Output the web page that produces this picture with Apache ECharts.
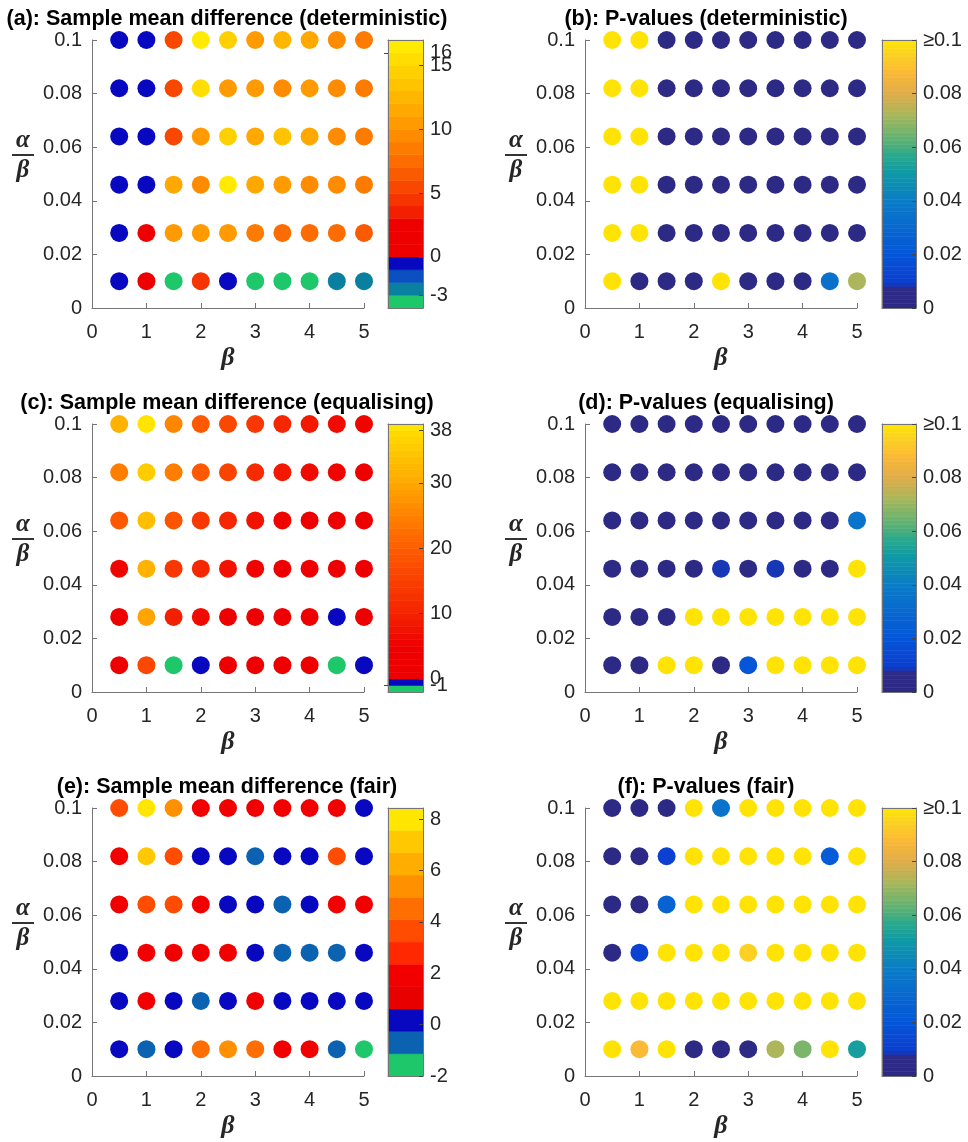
<!DOCTYPE html>
<html><head><meta charset="utf-8">
<script src="https://cdn.jsdelivr.net/npm/echarts@6/dist/echarts.min.js"></script>
<style>html,body{margin:0;padding:0;background:#fff}#c{width:968px;height:1142px}</style>
</head><body><div id="c"></div>
<script>
// ---------------- data ----------------
const betaValues = [0.5, 1, 1.5, 2, 2.5, 3, 3.5, 4, 4.5, 5];
// rows listed top (0.1) to bottom (0.01)
const ratioValues = [0.1, 0.082, 0.064, 0.046, 0.028, 0.01];
const xTickInterval = 1;
const yTickInterval = 0.02;

const panelTitles = [
  '(a): Sample mean difference (deterministic)',
  '(b): P-values (deterministic)',
  '(c): Sample mean difference (equalising)',
  '(d): P-values (equalising)',
  '(e): Sample mean difference (fair)',
  '(f): P-values (fair)'
];

const meanDiffDeterministic = [
  [-0.5, -0.5, 5.5, 16.5, 14.5, 10.5, 12, 11.5, 9.5, 8.5],
  [-0.5, -0.5, 5.5, 15.5, 10.5, 10, 9.5, 10, 9, 8],
  [-0.5, -0.5, 5.5, 10, 14, 11, 13, 11, 9.5, 8.5],
  [-0.5, -0.5, 11, 9.5, 16.5, 11.5, 10, 9.5, 9, 8.5],
  [-0.5, 1.5, 10, 10.5, 10.5, 8.5, 7.5, 7.5, 7, 6],
  [-0.5, 1.5, -3.5, 4.5, -0.5, -3.5, -3.5, -3.5, -2.5, -2.5]
];
const pValuesDeterministic = [
  [0.1, 0.1, 0.001, 0.001, 0.001, 0.001, 0.001, 0.001, 0.001, 0.001],
  [0.1, 0.1, 0.001, 0.001, 0.001, 0.001, 0.001, 0.001, 0.001, 0.001],
  [0.1, 0.1, 0.001, 0.001, 0.001, 0.001, 0.001, 0.001, 0.001, 0.001],
  [0.1, 0.1, 0.001, 0.001, 0.001, 0.001, 0.001, 0.001, 0.001, 0.001],
  [0.1, 0.1, 0.001, 0.001, 0.001, 0.001, 0.001, 0.001, 0.001, 0.001],
  [0.1, 0.001, 0.001, 0.001, 0.1, 0.001, 0.001, 0.001, 0.034, 0.072]
];
const meanDiffEqualising = [
  [31, 38.5, 25, 19.5, 16, 13, 10, 8, 6, 5],
  [24, 35, 24, 19, 15, 11, 8, 6, 5, 4],
  [19, 33, 18.5, 13, 10.5, 7, 5, 4, 3.5, 3],
  [5, 31, 13, 10, 7, 5, 4, 3, 2.5, 2],
  [4, 29, 9, 6, 4, 3.5, 3, 2.5, -0.5, 2],
  [3, 16, -1.5, -0.5, 3, 2.5, 2, 1.5, -1.5, -0.5]
];
const pValuesEqualising = [
  [0.001, 0.001, 0.001, 0.001, 0.001, 0.001, 0.001, 0.001, 0.001, 0.001],
  [0.001, 0.001, 0.001, 0.001, 0.001, 0.001, 0.001, 0.001, 0.001, 0.001],
  [0.001, 0.001, 0.001, 0.001, 0.001, 0.001, 0.001, 0.001, 0.001, 0.035],
  [0.001, 0.001, 0.001, 0.001, 0.008, 0.001, 0.008, 0.001, 0.001, 0.1],
  [0.001, 0.001, 0.001, 0.1, 0.1, 0.1, 0.1, 0.1, 0.1, 0.1],
  [0.001, 0.001, 0.1, 0.1, 0.001, 0.02, 0.1, 0.1, 0.1, 0.1]
];
const meanDiffFair = [
  [3.6, 8, 5.4, 1.8, 1.8, 1.6, 1.8, 1.6, 1.7, 0.2],
  [1.8, 7.2, 3.6, 0.2, 0.1, -0.6, 0.2, 0.1, 3.5, 0.2],
  [1.8, 3.6, 3.6, 1.9, 0.2, 0.1, -0.6, 0.2, 1.8, 1.8],
  [0.2, 1.8, 1.8, 1.5, 1.5, 0.2, -0.6, -0.6, -0.6, 0.2],
  [0.2, 1.8, 0.2, -0.6, 0.2, 1.8, 0.2, 0.2, 0.2, 0.2],
  [0.2, -0.6, 0.2, 4.5, 5.6, 4.5, 1.8, 1.8, -0.6, -1.5]
];
const pValuesFair = [
  [0.001, 0.001, 0.001, 0.1, 0.035, 0.1, 0.1, 0.1, 0.1, 0.1],
  [0.001, 0.001, 0.01, 0.1, 0.1, 0.1, 0.1, 0.1, 0.022, 0.1],
  [0.001, 0.001, 0.028, 0.1, 0.1, 0.1, 0.1, 0.1, 0.1, 0.1],
  [0.001, 0.012, 0.1, 0.1, 0.1, 0.094, 0.1, 0.1, 0.1, 0.1],
  [0.1, 0.1, 0.1, 0.1, 0.1, 0.1, 0.1, 0.1, 0.1, 0.1],
  [0.1, 0.088, 0.1, 0.001, 0.001, 0.001, 0.072, 0.066, 0.1, 0.052]
];

// colorbar ranges and tick labels (extra = labels that sit very close to a neighbour)
const cbRangeA = [-4, 17];    const cbTicksA = [-3, 0, 5, 10, 15];       const cbExtraA = [16];
const cbRangeC = [-2, 39];    const cbTicksC = [0, 10, 20, 30, 38];      const cbExtraC = [-1];
const cbRangeE = [-2, 8.44];  const cbTicksE = [-2, 0, 2, 4, 6, 8];      const cbExtraE = [];
const cbRangeP = [0, 0.1];    const cbTicksP = [0, 0.02, 0.04, 0.06, 0.08, 0.1]; const cbExtraP = [];

// ---------------- colormaps (style) ----------------
function hex2rgb(h){return [parseInt(h.slice(1,3),16),parseInt(h.slice(3,5),16),parseInt(h.slice(5,7),16)];}
function rgb2hex(c){return '#'+c.map(v=>Math.round(Math.max(0,Math.min(255,v))).toString(16).padStart(2,'0')).join('');}
function interp(stops, t){
  if (t <= stops[0][0]) return stops[0][1];
  for (let i=1;i<stops.length;i++){
    if (t <= stops[i][0]){
      const a=stops[i-1], b=stops[i]; const f=(t-a[0])/(b[0]-a[0]);
      const ca=hex2rgb(a[1]), cb=hex2rgb(b[1]);
      return rgb2hex(ca.map((v,k)=>v+(cb[k]-v)*f));
    }
  }
  return stops[stops.length-1][1];
}
const colorsA = ['#1ec86a','#0a80a0','#0a50c0','#0808c0',
  '#ee0000','#ee0000','#ee0000','#f22000','#f53400','#f84800','#fa5a00','#fc6c00','#fd7c00',
  '#fe8b00','#ff9a00','#ffa800','#ffb600','#ffc300','#ffd000','#ffdd00','#ffea00'];
const rampC = [[0,'#ee0000'],[5,'#ee0000'],[10,'#f42400'],[20,'#ff5c00'],[30,'#ffa800'],[38,'#ffdc00'],[39,'#ffec00']];
const colorsC = ['#1ec86a','#0808c0'];
for (let k=0;k<39;k++) colorsC.push(interp(rampC, k+0.5));
const colorsE = ['#1ec86a','#0a62b0','#0808c0','#e80000','#f20000','#ff2800','#ff4c00','#ff6e00','#ff9000','#ffae00','#ffc800','#ffe600'];
const parulaStops = [[0,'#2d2a85'],[0.007,'#2e2b88'],[0.0095,'#0b3ecf'],[0.02,'#0556d8'],[0.03,'#0868d0'],[0.04,'#0b7dc6'],[0.05,'#0e99a8'],[0.057,'#2aa98d'],[0.064,'#68b470'],[0.072,'#a8b75c'],[0.08,'#e0ad48'],[0.088,'#fbb937'],[0.095,'#fdd21f'],[0.1,'#ffe600']];
const colorsP = [];
for (let k=0;k<64;k++) colorsP.push(interp(parulaStops, (k+0.5)/64*0.1));

const colorbars = {
  A:{range:cbRangeA, ticks:cbTicksA, extra:cbExtraA, colors:colorsA},
  C:{range:cbRangeC, ticks:cbTicksC, extra:cbExtraC, colors:colorsC},
  E:{range:cbRangeE, ticks:cbTicksE, extra:cbExtraE, colors:colorsE},
  P:{range:cbRangeP, ticks:cbTicksP, extra:cbExtraP, colors:colorsP}
};
function colorFor(cb, v){
  const n=cb.colors.length; const [lo,hi]=cb.range;
  let idx=Math.floor((v-lo)/(hi-lo)*n); idx=Math.max(0,Math.min(n-1,idx));
  return cb.colors[idx];
}

const panels = [
  {values:meanDiffDeterministic, cmap:'A', col:0, row:0},
  {values:pValuesDeterministic, cmap:'P', col:1, row:0},
  {values:meanDiffEqualising, cmap:'C', col:0, row:1},
  {values:pValuesEqualising, cmap:'P', col:1, row:1},
  {values:meanDiffFair, cmap:'E', col:0, row:2},
  {values:pValuesFair, cmap:'P', col:1, row:2}
];

// ---------------- layout ----------------
const plotLeft=[92,585], plotWidth=272, plotTop=[40,424,808], plotHeight=268;
const cbLeft=[388,882], cbWidth=[35,34];
const titleCenter=[227,706];
const FONT='"Liberation Sans", Arial, Helvetica, sans-serif';
const SERIF='"Liberation Serif", "DejaVu Serif", serif';
const axisColor='#757575', textColor='#262626';

function fmtNum(v){ if (Math.abs(v)<1e-12) return '0'; return String(parseFloat(v.toFixed(4))); }

const grids=[], xAxes=[], yAxes=[], series=[], titles=[];
panels.forEach((p,i)=>{
  const left=plotLeft[p.col], top=plotTop[p.row];
  const cb=colorbars[p.cmap];
  titles.push({text:panelTitles[i], left:titleCenter[p.col], top:top-32, textAlign:'center', padding:0,
    textStyle:{fontSize:21.5, fontWeight:'bold', color:'#000', fontFamily:FONT}});
  const gi=grids.length;
  grids.push({left, top, width:plotWidth, height:plotHeight, outerBoundsMode:'none'});
  const xi=xAxes.length;
  xAxes.push({gridIndex:gi, type:'value', min:0, max:5, interval:xTickInterval,
    axisLine:{show:true, onZero:false, lineStyle:{color:axisColor, width:1}},
    axisTick:{show:true, inside:true, length:5, lineStyle:{color:axisColor}},
    axisLabel:{fontSize:20, color:textColor, margin:14, fontFamily:FONT},
    splitLine:{show:false},
    name:'β', nameLocation:'middle', nameGap:37,
    nameTextStyle:{fontFamily:SERIF, fontStyle:'italic', fontWeight:'bold', fontSize:26, color:textColor}});
  const yi=yAxes.length;
  yAxes.push({gridIndex:gi, type:'value', min:0, max:0.1, interval:yTickInterval,
    axisLine:{show:true, onZero:false, lineStyle:{color:axisColor, width:1}},
    axisTick:{show:true, inside:true, length:5, lineStyle:{color:axisColor}},
    axisLabel:{fontSize:20, color:textColor, margin:10, fontFamily:FONT, formatter:fmtNum},
    splitLine:{show:false},
    name:'{a|α}\n{l| }\n{b|β}', nameLocation:'middle', nameRotate:0, nameGap:58,
    nameTextStyle:{padding:[0,0,34,0], rich:{
      a:{fontFamily:SERIF, fontStyle:'italic', fontWeight:'bold', fontSize:25, color:textColor, width:22, align:'center', lineHeight:22},
      l:{width:22, height:2, lineHeight:6, backgroundColor:'#333', fontSize:2, align:'center'},
      b:{fontFamily:SERIF, fontStyle:'italic', fontWeight:'bold', fontSize:25, color:textColor, width:22, align:'center', lineHeight:26}
    }}});
  const data=[];
  ratioValues.forEach((r,ri)=>betaValues.forEach((b,bi)=>data.push([b, r, p.values[ri][bi]])));
  series.push({type:'scatter', xAxisIndex:xi, yAxisIndex:yi, symbolSize:18, clip:false, data,
    itemStyle:{opacity:1, color:(prm)=>colorFor(cb, prm.value[2])}, emphasis:{disabled:true}, z:3});

  // colorbar
  const cgi=grids.length;
  grids.push({left:cbLeft[p.col], top, width:cbWidth[p.col], height:plotHeight, outerBoundsMode:'none'});
  const lineOnly={show:true, onZero:false, lineStyle:{color:axisColor, width:1}};
  const cxi=xAxes.length;
  xAxes.push({gridIndex:cgi, type:'value', min:0, max:1, position:'bottom', axisLine:lineOnly, axisTick:{show:false}, axisLabel:{show:false}, splitLine:{show:false}, z:5});
  xAxes.push({gridIndex:cgi, type:'value', min:0, max:1, position:'top', axisLine:lineOnly, axisTick:{show:false}, axisLabel:{show:false}, splitLine:{show:false}, z:5});
  const labelStyle={fontSize:20, color:textColor, margin:7, fontFamily:FONT,
      formatter:(v)=> (p.cmap==='P' && v>=0.0999) ? '≥0.1' : fmtNum(v)};
  const cyi=yAxes.length;
  yAxes.push({gridIndex:cgi, type:'value', min:cb.range[0], max:cb.range[1], position:'right',
    axisLine:lineOnly,
    axisTick:{show:true, inside:true, length:4, customValues:cb.ticks, lineStyle:{color:'#444'}},
    axisLabel:Object.assign({customValues:cb.ticks, hideOverlap:false}, labelStyle),
    splitLine:{show:false}, z:5});
  yAxes.push({gridIndex:cgi, type:'value', min:cb.range[0], max:cb.range[1], position:'left', axisLine:lineOnly, axisTick:{show:false}, axisLabel:{show:false}, splitLine:{show:false}, z:5});
  if (cb.extra.length){
    yAxes.push({gridIndex:cgi, type:'value', min:cb.range[0], max:cb.range[1], position:'right',
      axisLine:{show:false},
      axisTick:{show:true, inside:true, length:4, customValues:cb.extra, lineStyle:{color:'#444'}},
      axisLabel:Object.assign({customValues:cb.extra}, labelStyle),
      splitLine:{show:false}, z:5});
  }
  const n=cb.colors.length, step=(cb.range[1]-cb.range[0])/n;
  const cbData=cb.colors.map((c,k)=>[cb.range[0]+k*step, cb.range[0]+(k+1)*step, k]);
  series.push({type:'custom', xAxisIndex:cxi, yAxisIndex:cyi, data:cbData, silent:true, z:2,
    renderItem:(params, api)=>{
      const p0=api.coord([0, api.value(0)]);
      const p1=api.coord([1, api.value(1)]);
      const col=cb.colors[api.value(2)];
      return {type:'rect', shape:{x:p0[0], y:p1[1], width:p1[0]-p0[0], height:p0[1]-p1[1]},
        style:{fill:col, stroke:col, lineWidth:0.6}};
    }});
});

const chart=echarts.init(document.getElementById('c'), null, {renderer:'canvas', width:968, height:1142});
chart.setOption({
  animation:false,
  backgroundColor:'#ffffff',
  title:titles,
  grid:grids,
  xAxis:xAxes,
  yAxis:yAxes,
  series
});
</script>
</body></html>
